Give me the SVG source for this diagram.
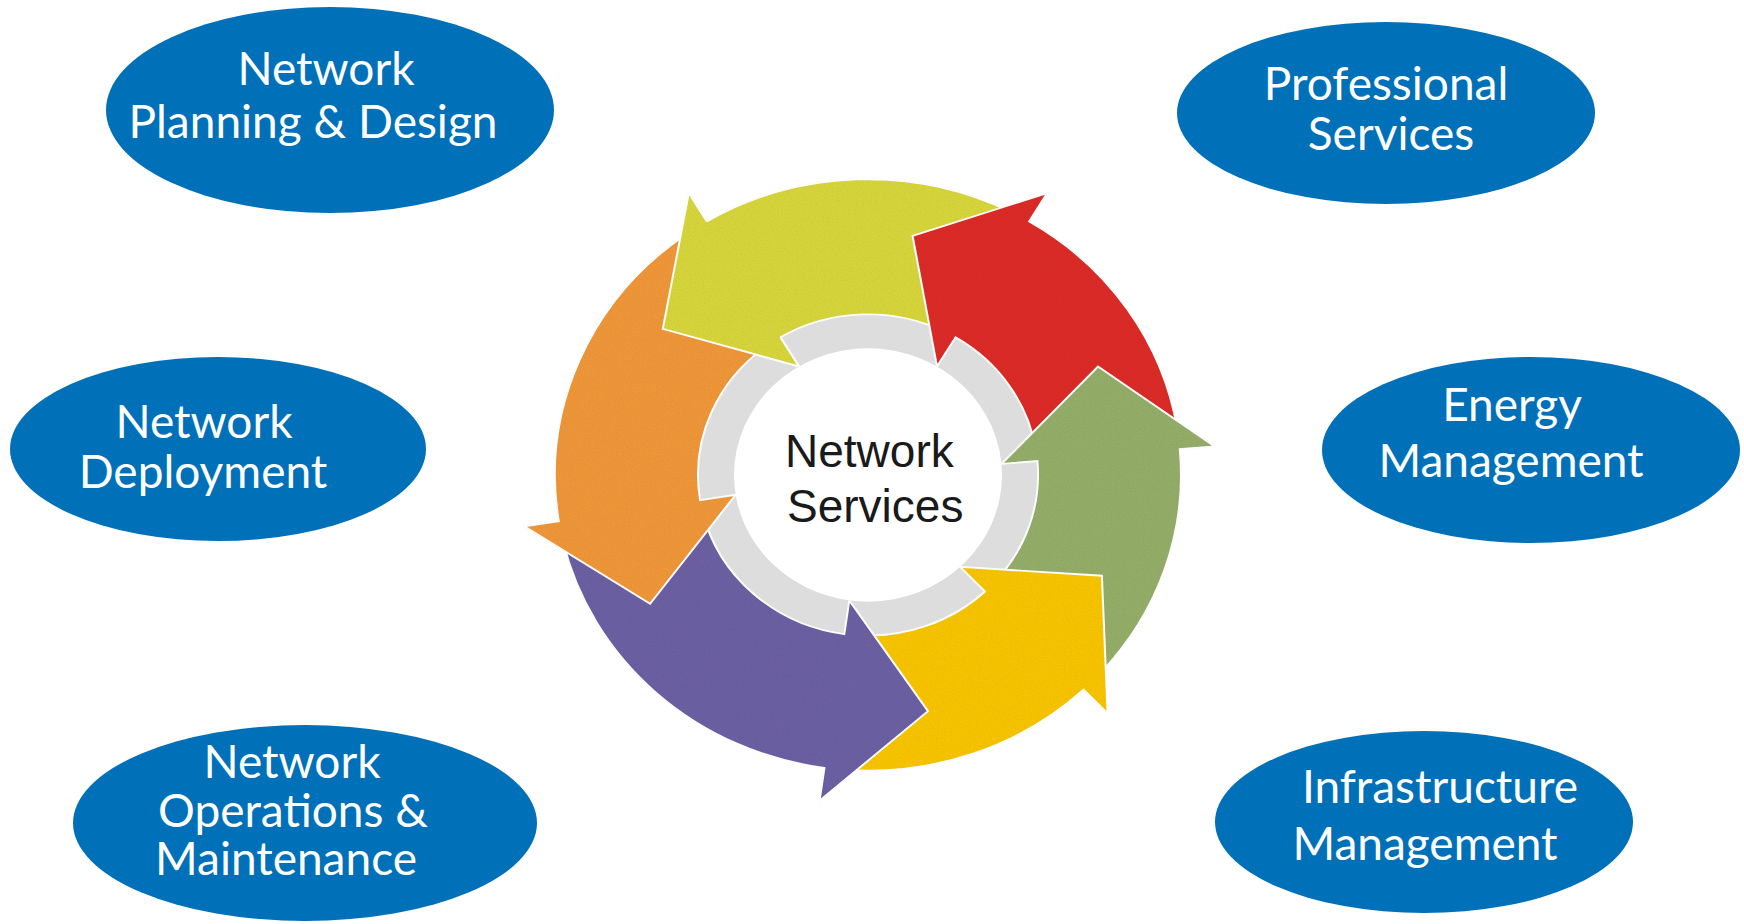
<svg xmlns="http://www.w3.org/2000/svg" width="1744" height="924" viewBox="0 0 1744 924">
<defs>
<filter id="speckle" x="0" y="0" width="1" height="1">
  <feTurbulence type="fractalNoise" baseFrequency="0.85" numOctaves="1" seed="3" result="n"/>
  <feColorMatrix in="n" type="matrix" values="0 0 0 0 0  0 0 0 0 0  0 0 0 0 0  0 0 0 -2.2 1.25" result="dots"/>
  <feComposite in="dots" in2="SourceGraphic" operator="in" result="d2"/>
  <feComponentTransfer in="d2" result="d3"><feFuncA type="linear" slope="0.12"/></feComponentTransfer>
  <feMerge><feMergeNode in="SourceGraphic"/><feMergeNode in="d3"/></feMerge>
</filter>
</defs>
<style>
.oval{fill:#0071b9}
.lbl{font-family:Lato,"Open Sans","Liberation Sans",sans-serif;font-size:46px;fill:#ffffff;text-anchor:middle}
.arr{stroke:#ffffff;stroke-width:2;stroke-linejoin:miter}
.ctr{font-family:"Liberation Sans",Arial,sans-serif;font-size:46px;fill:#1a1a1a}
</style>
<rect width="1744" height="924" fill="#ffffff"/>
<g id="cycle" transform="translate(868,475) scale(1,0.945)">
  <circle r="170" fill="#dddddd"/>
  <circle r="134" fill="#ffffff"/>
  <g id="connectors" filter="url(#speckle)">
    <path id="arrow-yellowgreen" class="arr" fill="#d6d43a" d="M-161.2,-268.3 A313,313 0 0 1 142.1,-278.9 L77.2,-151.5 A170,170 0 0 0 -87.6,-145.7 L-69.0,-114.9 L-205.2,-154.7 L-179.2,-298.3 Z"/>
    <path id="arrow-red" class="arr" fill="#da2a26" d="M161.2,-268.3 A313,313 0 0 1 309.2,-49.0 L167.9,-26.6 A170,170 0 0 0 87.6,-145.7 L69.0,-114.9 L44.6,-253.1 L179.2,-298.3 Z"/>
    <path id="arrow-green" class="arr" fill="#93ac68" d="M311.8,-27.3 A313,313 0 0 1 232.6,209.4 L126.3,113.7 A170,170 0 0 0 169.4,-14.8 L133.5,-11.7 L230.0,-114.7 L346.7,-30.3 Z"/>
    <path id="arrow-gold" class="arr" fill="#f6c300" d="M215.5,227.1 A313,313 0 0 1 -21.8,312.2 L-11.9,169.6 A170,170 0 0 0 117.0,123.3 L92.2,97.2 L233.9,106.6 L239.6,252.4 Z"/>
    <path id="arrow-purple" class="arr" fill="#6b5ea1" d="M-43.6,310.0 A313,313 0 0 1 -305.0,70.4 L-165.6,38.3 A170,170 0 0 0 -23.7,168.4 L-18.7,132.7 L60.0,249.9 L-48.4,344.6 Z"/>
    <path id="arrow-orange" class="arr" fill="#ed9539" d="M-309.2,49.0 A313,313 0 0 1 -179.5,-256.4 L-97.5,-139.3 A170,170 0 0 0 -167.9,26.6 L-132.4,21.0 L-217.9,136.2 L-343.7,54.4 Z"/>
    <path fill="#d6d43a" d="M-179.2,-298.3 L-205.2,-154.7 L-69.0,-114.9 L-87.6,-145.7 L-161.2,-268.3 Z"/>
    <path fill="none" stroke="#ffffff" stroke-width="2" d="M-161.2,-268.3 L-179.2,-298.3 L-205.2,-154.7 L-69.0,-114.9 L-87.6,-145.7"/>
  </g>
</g>
<g id="center-label">
  <text class="ctr" x="785" y="467">Network</text>
  <text class="ctr" x="787" y="522">Services</text>
</g>
<g id="node-planning">
  <ellipse class="oval" cx="330" cy="110" rx="224" ry="103"/>
  <text class="lbl" x="326" y="85" font-size="47">Network</text>
  <text class="lbl" x="313" y="138" font-size="47">Planning &amp; Design</text>
</g>
<g id="node-deployment">
  <ellipse class="oval" cx="218" cy="449" rx="208" ry="92"/>
  <text class="lbl" x="204" y="438">Network</text>
  <text class="lbl" x="203" y="488">Deployment</text>
</g>
<g id="node-operations">
  <ellipse class="oval" cx="305" cy="823" rx="232" ry="98"/>
  <text class="lbl" x="292" y="778">Network</text>
  <text class="lbl" x="293" y="827">Operations &amp;</text>
  <text class="lbl" x="286" y="875">Maintenance</text>
</g>
<g id="node-professional">
  <ellipse class="oval" cx="1386" cy="113" rx="209" ry="91"/>
  <text class="lbl" x="1386" y="100">Professional</text>
  <text class="lbl" x="1391" y="150">Services</text>
</g>
<g id="node-energy">
  <ellipse class="oval" cx="1531" cy="450" rx="209" ry="93"/>
  <text class="lbl" x="1512" y="421">Energy</text>
  <text class="lbl" x="1511" y="477">Management</text>
</g>
<g id="node-infrastructure">
  <ellipse class="oval" cx="1424" cy="822" rx="209" ry="91"/>
  <text class="lbl" x="1440" y="803" font-size="47">Infrastructure</text>
  <text class="lbl" x="1425" y="860">Management</text>
</g>
</svg>
